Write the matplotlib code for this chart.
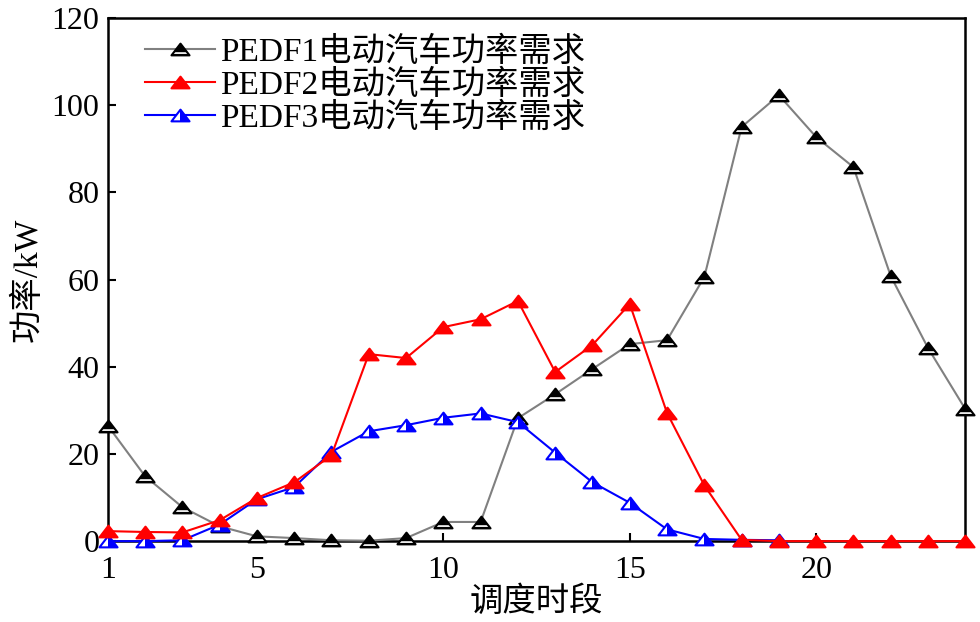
import matplotlib
matplotlib.use("Agg")
import matplotlib.pyplot as plt
from matplotlib.path import Path
from matplotlib.legend_handler import HandlerTuple

plt.rcParams['font.family'] = ['Liberation Serif', 'Noto Sans CJK SC']

hours = list(range(1, 25))
pedf1 = [26.5, 14.9, 7.8, 3.4, 1.1, 0.7, 0.2, 0.1, 0.7, 4.4, 4.4, 28.2,
         33.7, 39.5, 45.2, 46.1, 60.6, 95.0, 102.3, 92.7, 85.8, 60.8, 44.3, 30.3]
pedf2 = [2.3, 2.1, 2.0, 4.8, 9.9, 13.5, 19.7, 42.9, 42.0, 49.1, 50.9, 55.1,
         38.8, 45.0, 54.4, 29.4, 12.8, 0.3, 0.0, 0.0, 0.0, 0.0, 0.0, 0.0]
hours3 = list(range(1, 20))
pedf3 = [0.0, 0.0, 0.2, 3.8, 9.6, 12.4, 20.5, 25.2, 26.6, 28.3, 29.3, 27.3,
         20.3, 13.5, 8.8, 2.7, 0.5, 0.3, 0.2]

labels = ['PEDF1电动汽车功率需求', 'PEDF2电动汽车功率需求', 'PEDF3电动汽车功率需求']

# flat triangle markers
tri = Path([(-1, -0.65), (1, -0.65), (0, 0.65), (-1, -0.65)],
           [Path.MOVETO, Path.LINETO, Path.LINETO, Path.CLOSEPOLY])
# black: filled except a thin white stripe near the bottom
tri_stripe = Path([(0, 0.65), (-0.72, -0.30), (0.72, -0.30), (0, 0.65),
                   (-1, -0.65), (1, -0.65), (0.88, -0.49), (-0.88, -0.49), (-1, -0.65)],
                  [Path.MOVETO, Path.LINETO, Path.LINETO, Path.CLOSEPOLY,
                   Path.MOVETO, Path.LINETO, Path.LINETO, Path.LINETO, Path.CLOSEPOLY])
# blue: right half filled
tri_right = Path([(0, 0.65), (0, -0.65), (1, -0.65), (0, 0.65)],
                 [Path.MOVETO, Path.LINETO, Path.LINETO, Path.CLOSEPOLY])

fig = plt.figure(figsize=(9.8, 6.22), dpi=100)
ax = fig.add_axes([0.110, 0.130, 0.875, 0.841])

ms = 13
l1a, = ax.plot(hours, pedf1, color='gray', lw=1.5, marker=tri, ms=ms, mew=1.5,
               mec='black', mfc='white', clip_on=False, zorder=3)
l1b, = ax.plot(hours, pedf1, ls='none', marker=tri_stripe, ms=ms, mew=0,
               mfc='black', clip_on=False, zorder=3.1)
l3a, = ax.plot(hours3, pedf3, color='blue', lw=1.5, marker=tri, ms=ms, mew=1.5,
               mec='blue', mfc='white', clip_on=False, zorder=4)
l3b, = ax.plot(hours3, pedf3, ls='none', marker=tri_right, ms=ms, mew=0,
               mfc='blue', clip_on=False, zorder=4.1)
l2, = ax.plot(hours, pedf2, color='red', lw=1.5, marker=tri, ms=ms, mew=1.5,
              mec='red', mfc='red', clip_on=False, zorder=5)

ax.set_xlim(1, 24)
ax.set_ylim(0, 120)
ax.set_xticks([1, 5, 10, 15, 20])
ax.set_yticks([0, 20, 40, 60, 80, 100, 120])
ax.tick_params(direction='in', length=6, width=1.5, labelsize=23)
ax.tick_params(axis='x', pad=11)
ax.tick_params(axis='y', pad=6)
for s in ax.spines.values():
    s.set_linewidth(1.8)

ax.set_xlabel('调度时段', fontsize=24, labelpad=1)
ax.set_ylabel('功率/kW', fontsize=24, labelpad=6)

ax.legend([(l1a, l1b), l2, (l3a, l3b)], labels, loc='upper left',
          handler_map={tuple: HandlerTuple(ndivide=1)},
          frameon=False, fontsize=24, handlelength=2.1, handletextpad=0.15,
          labelspacing=0.05, borderaxespad=0.0, bbox_to_anchor=(0.028, 0.99))

fig.savefig('out.png', dpi=100)
